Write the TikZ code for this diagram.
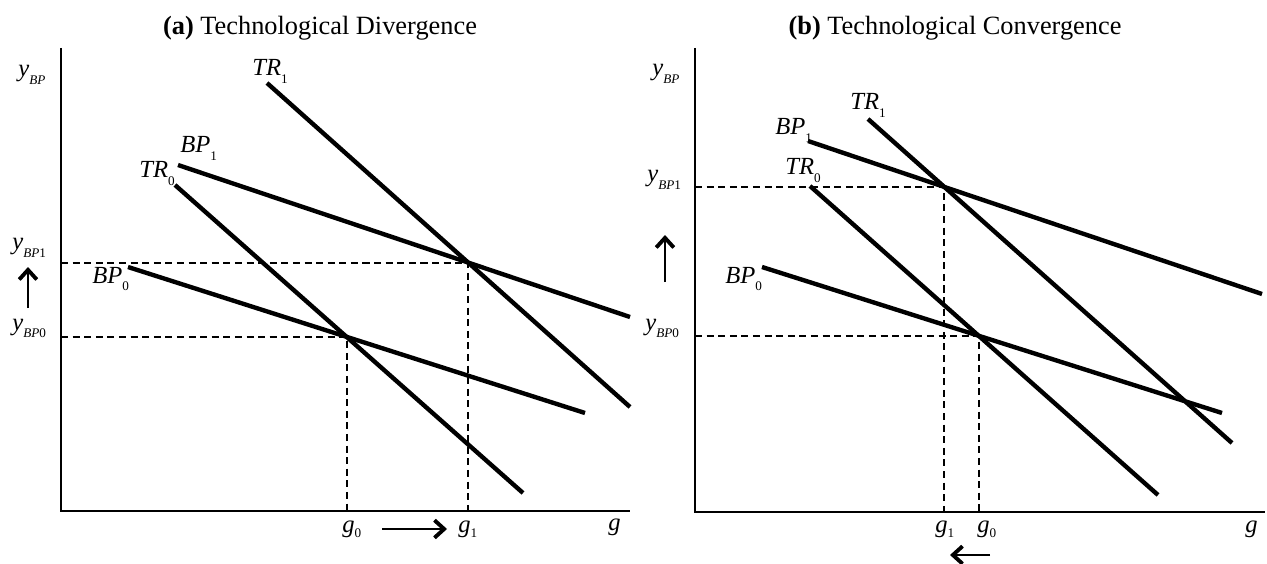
\documentclass[tikz,border=0pt]{standalone}
\usepackage{fontspec}
\setmainfont{Liberation Serif}
\usetikzlibrary{arrows.meta,intersections}
\newcommand{\crv}[2]{\textit{#1}\raisebox{-4pt}{\fontsize{7.5}{8}\selectfont #2}}
\newcommand{\ylab}[1]{\textit{y}\raisebox{-4pt}{\fontsize{7.5}{8}\selectfont\textit{BP}#1}}
\newcommand{\glab}[1]{\textit{g}\raisebox{-3pt}{\fontsize{7.5}{8}\selectfont #1}}

\begin{document}
\begin{tikzpicture}[x=0.02cm, y=-0.02cm,
  every node/.style={font=\fontsize{14}{16}\selectfont, inner sep=0pt},
  axis/.style={line width=1.1pt},
  curve/.style={line width=2.5pt},
  guide/.style={line width=1.1pt, dash pattern=on 4pt off 2.6pt},
  move/.style={line width=0.9pt, -{Straight Barb[length=5.5pt,width=10pt,line width=2.2pt]}}]
\useasboundingbox (0,0) rectangle (1267,564);

% (a) divergence
\node[anchor=base] (ta) at (320,35) {\fontsize{15}{18}\selectfont\textbf{(a)} Technological Divergence};
\coordinate (oa) at (61,511);
\coordinate (ya) at (61,48);
\coordinate (xa) at (630,511);
\draw[axis] (ya) -- (oa) -- (xa);
\draw[curve, name path=tr1a] (267,83) -- (630,407);
\draw[curve, name path=bp1a] (178,165) -- (630,317);
\draw[curve, name path=tr0a] (175,185) -- (523,493);
\draw[curve, name path=bp0a] (128,267) -- (585,413);
\path[name intersections={of=tr0a and bp0a, by=e0a}];
\path[name intersections={of=tr1a and bp1a, by=e1a}];
\draw[guide] (oa |- e0a) -- (e0a) -- (e0a |- oa);
\draw[guide] (oa |- e1a) -- (e1a) -- (e1a |- oa);
\node[anchor=base west] (tr1al) at (252,76) {\crv{TR}{1}};
\node[anchor=base west] (bp1al) at (180,153) {\crv{BP}{1}};
\node[anchor=base west] (tr0al) at (139,178) {\crv{TR}{0}};
\node[anchor=base west] (bp0al) at (92,283) {\crv{BP}{0}};
\node[anchor=base west] (yal) at (18,77) {\ylab{}};
\node[anchor=base west] (y1al) at (12,250) {\ylab{1}};
\node[anchor=base west] (y0al) at (12,330) {\ylab{0}};
\coordinate (upa0) at (28,308);
\coordinate (upa1) at (28,267);
\draw[move] (upa0) -- (upa1);
\node[anchor=base west] (g0al) at (342,532) {\glab{0}};
\node[anchor=base west] (g1al) at (458,532) {\glab{1}};
\node[anchor=base west] (gal) at (608,530) {\textit{g}};
\coordinate (ra0) at (382,529);
\coordinate (ra1) at (447,529);
\draw[move] (ra0) -- (ra1);

% (b) convergence
\node[anchor=base] (tb) at (955,35) {\fontsize{15}{18}\selectfont\textbf{(b)} Technological Convergence};
\coordinate (ob) at (695,512);
\coordinate (yb) at (695,48);
\coordinate (xb) at (1265,512);
\draw[axis] (yb) -- (ob) -- (xb);
\draw[curve, name path=tr1b] (868,119) -- (1232,443);
\draw[curve, name path=bp1b] (808,141) -- (1262,294);
\draw[curve, name path=tr0b] (810,186) -- (1158,495);
\draw[curve, name path=bp0b] (762,267) -- (1222,413);
\path[name intersections={of=tr0b and bp0b, by=e0b}];
\path[name intersections={of=tr1b and bp1b, by=e1b}];
\draw[guide] (ob |- e0b) -- (e0b) -- (e0b |- ob);
\draw[guide] (ob |- e1b) -- (e1b) -- (e1b |- ob);
\node[anchor=base west] (tr1bl) at (850,110) {\crv{TR}{1}};
\node[anchor=base west] (bp1bl) at (775,135) {\crv{BP}{1}};
\node[anchor=base west] (tr0bl) at (785,175) {\crv{TR}{0}};
\node[anchor=base west] (bp0bl) at (725,283) {\crv{BP}{0}};
\node[anchor=base west] (ybl) at (652,76) {\ylab{}};
\node[anchor=base west] (y1bl) at (647,182) {\ylab{1}};
\node[anchor=base west] (y0bl) at (645,330) {\ylab{0}};
\coordinate (upb0) at (665,282);
\coordinate (upb1) at (665,235);
\draw[move] (upb0) -- (upb1);
\node[anchor=base west] (g1bl) at (935,532) {\glab{1}};
\node[anchor=base west] (g0bl) at (977,532) {\glab{0}};
\node[anchor=base west] (gbl) at (1245,532) {\textit{g}};
\coordinate (lb0) at (990,555);
\coordinate (lb1) at (950,555);
\draw[move] (lb0) -- (lb1);
\end{tikzpicture}
\end{document}
